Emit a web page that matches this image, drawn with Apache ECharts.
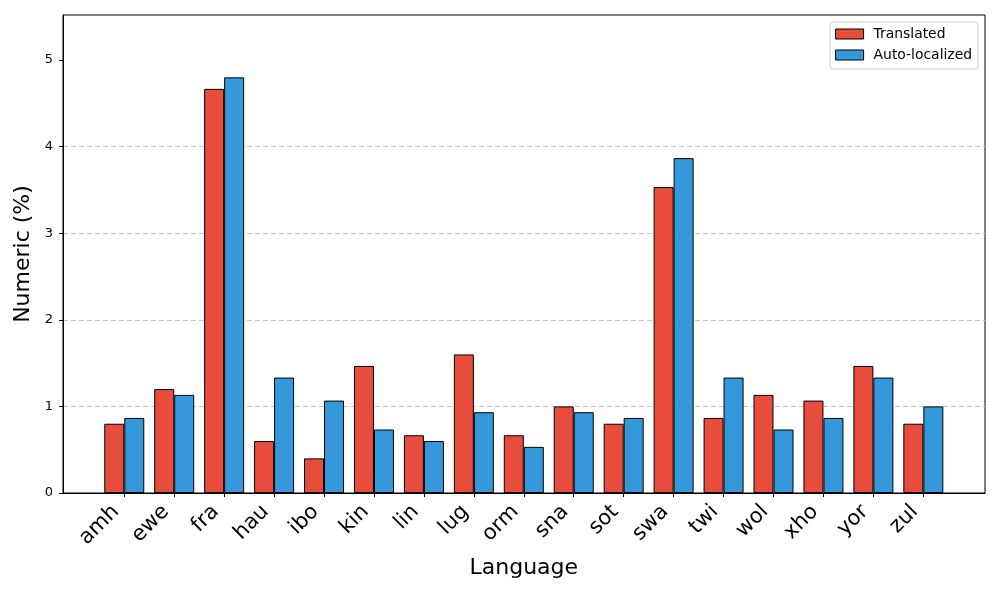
<!DOCTYPE html>
<html>
<head>
<meta charset="utf-8">
<script src="https://cdn.jsdelivr.net/npm/echarts@6/dist/echarts.min.js"></script>
<style>html,body{margin:0;padding:0;background:#fff}#c{width:1000px;height:600px}</style>
</head>
<body>
<div id="c"></div>
<script>
const languages = ['amh','ewe','fra','hau','ibo','kin','lin','lug','orm','sna','sot','swa','twi','wol','xho','yor','zul'];
const translated = [0.800,1.200,4.667,0.600,0.400,1.467,0.667,1.600,0.667,1.000,0.800,3.533,0.867,1.133,1.067,1.467,0.800];
const autoLocalized = [0.867,1.133,4.800,1.333,1.067,0.733,0.600,0.933,0.533,0.933,0.867,3.867,1.333,0.733,0.867,1.333,1.000];
const yTicks = [0,1,2,3,4,5];

const chart = echarts.init(document.getElementById('c'), null, {renderer:'canvas'});
const font = 'DejaVu Sans';
chart.setOption({
  animation: false,
  textStyle: {fontFamily: font},
  grid: [
    {left: 63, right: 15, top: 15, bottom: 107, show: true, borderColor: '#000', borderWidth: 1, backgroundColor: 'transparent'},
    {left: 99.3, right: 51.7, top: 15, bottom: 107}
  ],
  legend: {
    right: 22, top: 22, orient: 'vertical', align: 'left',
    icon: 'rect',
    itemWidth: 28, itemHeight: 10, itemGap: 7,
    backgroundColor: '#fff', borderColor: '#ccc', borderWidth: 1, borderRadius: 3,
    padding: [5, 6, 7, 5],
    itemStyle: {borderColor: '#000', borderWidth: 1},
    textStyle: {fontSize: 13.9, color: '#000', fontFamily: font, padding: [0, 0, 0, 5]},
    data: ['Translated', 'Auto-localized']
  },
  xAxis: [
    {gridIndex: 0, type: 'value', min: 0, max: 1, show: true,
     axisLine: {show: true, lineStyle: {color: '#000'}}, axisTick: {show: false},
     axisLabel: {show: false}, splitLine: {show: false}},
    {gridIndex: 1, type: 'category', data: languages,
     axisLine: {show: false},
     axisTick: {show: true, alignWithLabel: true, length: 4, lineStyle: {color: '#000'}},
     axisLabel: {rotate: 45, fontSize: 21, color: '#000', margin: 7, interval: 0, fontFamily: font, padding: [0, 12, 0, 0]},
     name: 'Language', nameLocation: 'middle', nameGap: 64,
     nameTextStyle: {fontSize: 22, color: '#000', fontFamily: font}}
  ],
  yAxis: [
    {gridIndex: 0, type: 'value', min: 0, max: 5.52, interval: 1,
     axisLine: {show: true, lineStyle: {color: '#000'}},
     axisTick: {show: true, length: 4, lineStyle: {color: '#000'}, customValues: yTicks},
     axisLabel: {fontSize: 13, color: '#000', margin: 10, customValues: yTicks, fontFamily: font},
     splitLine: {show: true, showMinLine: false, showMaxLine: false, lineStyle: {color: '#c8c8c8', type: [5, 3], width: 1}},
     name: 'Numeric (%)', nameLocation: 'middle', nameGap: 28, nameRotate: 90,
     nameTextStyle: {fontSize: 22, color: '#000', fontFamily: font}},
    {gridIndex: 1, type: 'value', min: 0, max: 5.52, show: false, splitLine: {show: false}}
  ],
  series: [
    {name: 'Translated', type: 'bar', xAxisIndex: 1, yAxisIndex: 1, data: translated,
     barWidth: 20, barGap: '0%', itemStyle: {color: '#e74c3c', borderColor: '#000', borderWidth: 1}},
    {name: 'Auto-localized', type: 'bar', xAxisIndex: 1, yAxisIndex: 1, data: autoLocalized,
     barWidth: 20, barGap: '0%', itemStyle: {color: '#3498db', borderColor: '#000', borderWidth: 1}}
  ]
});
</script>
</body>
</html>
